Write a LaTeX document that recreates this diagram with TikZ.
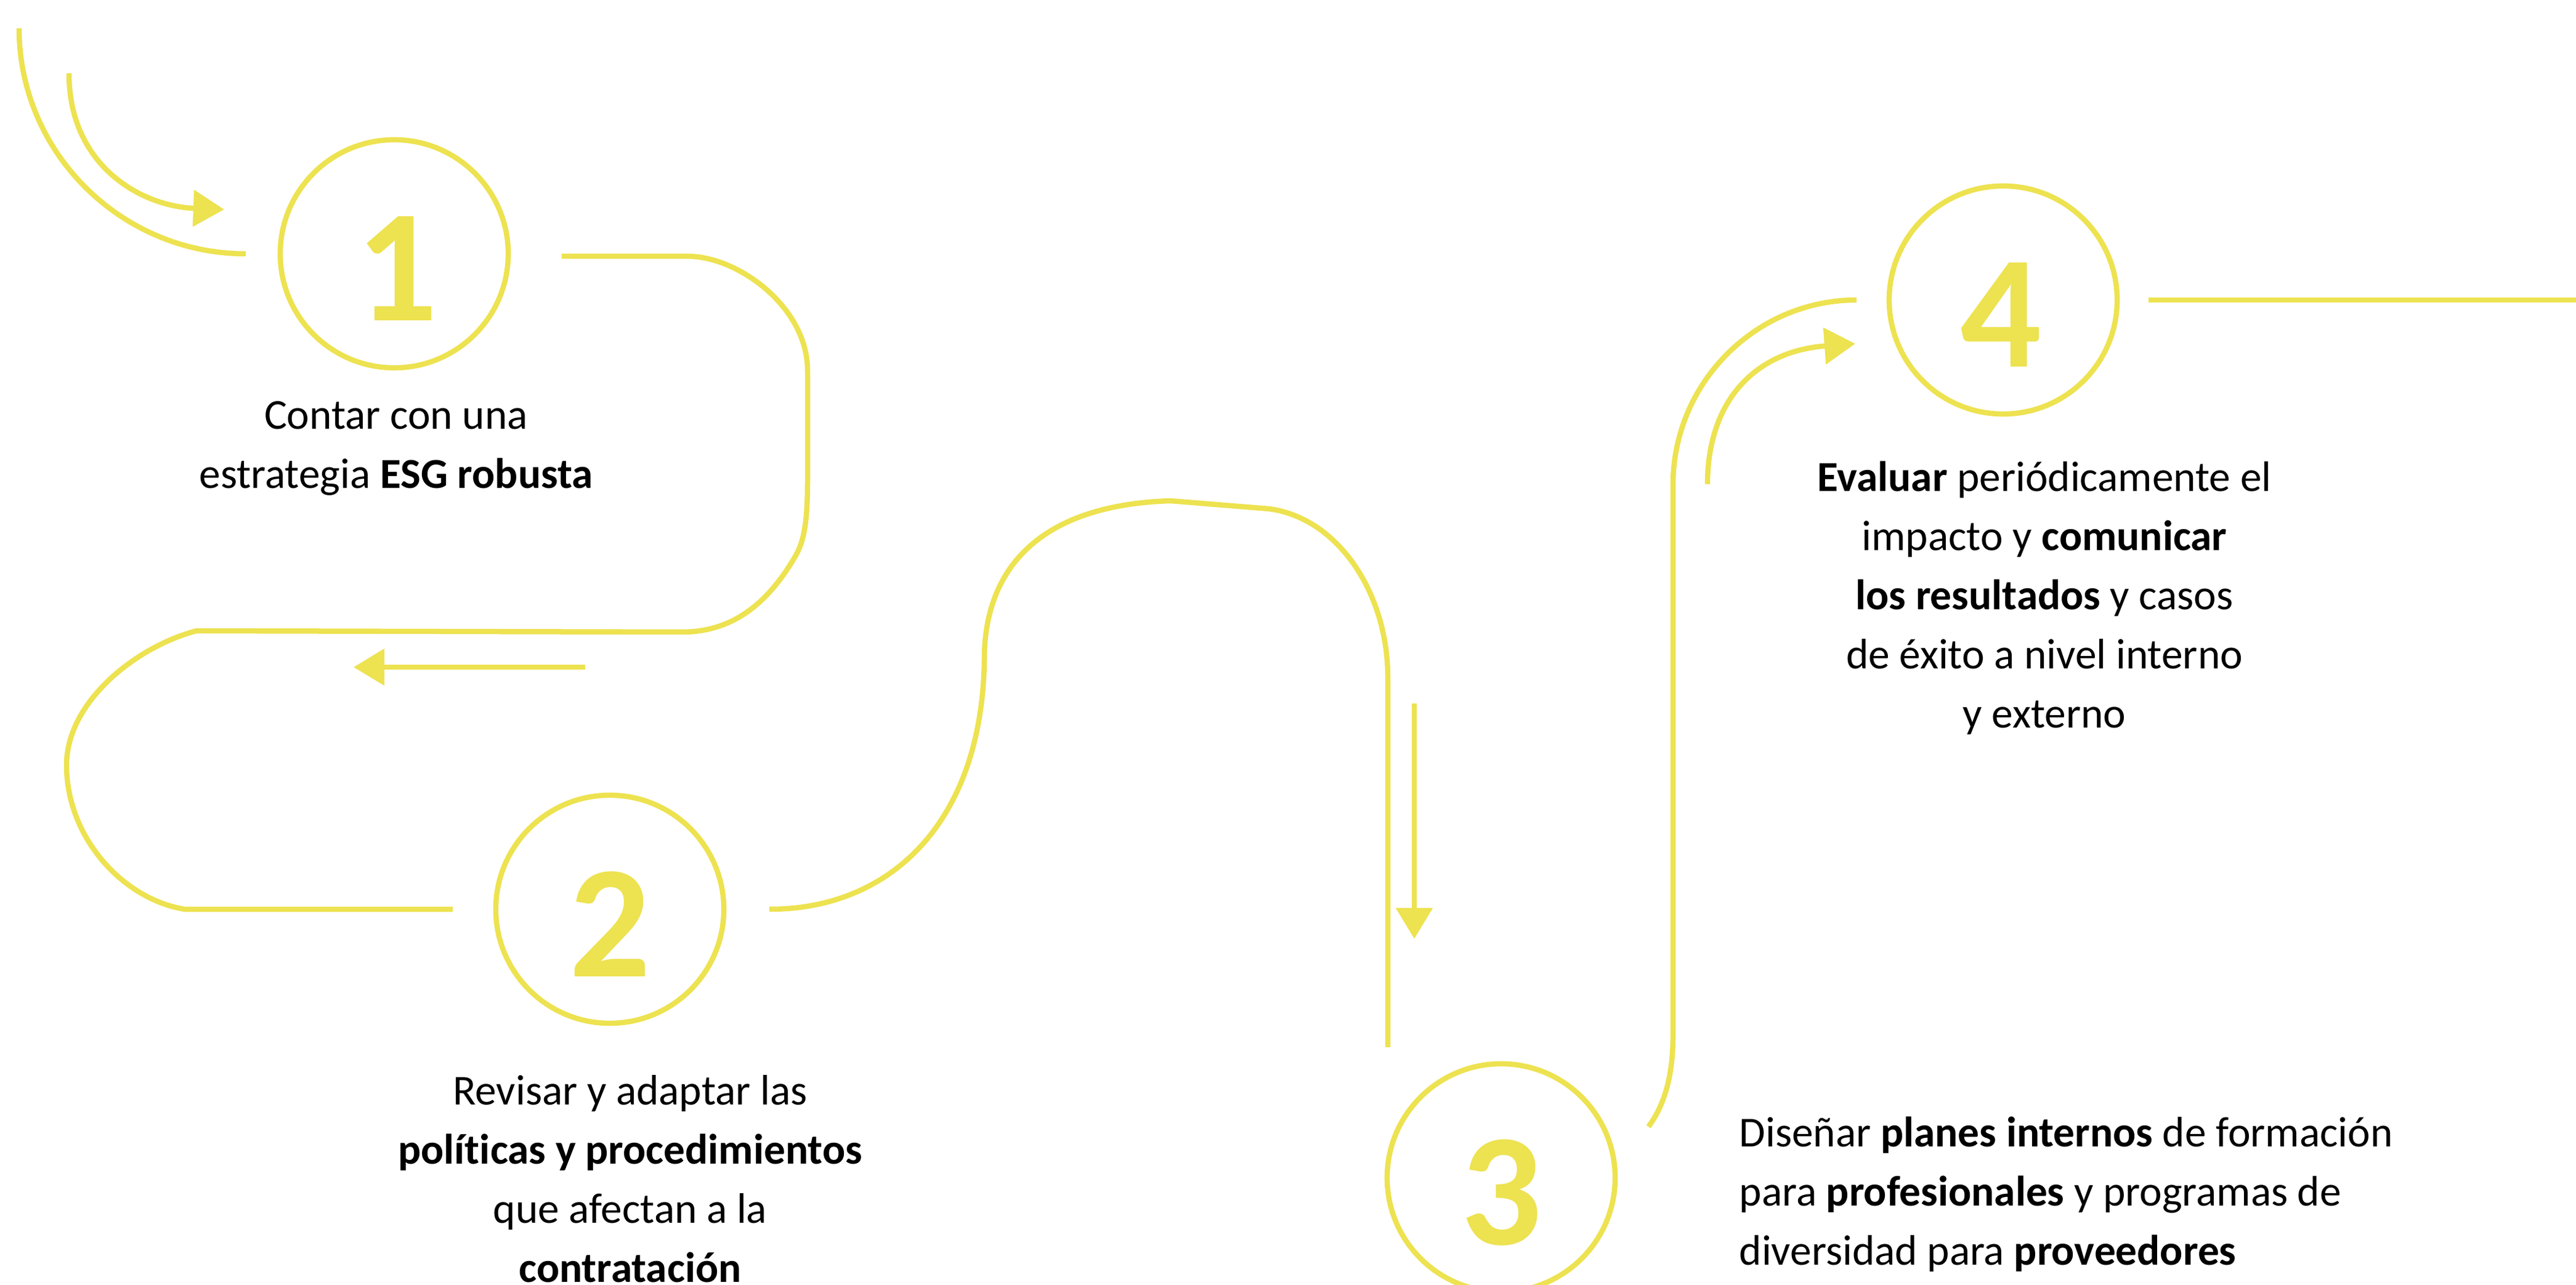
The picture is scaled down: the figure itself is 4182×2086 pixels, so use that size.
\documentclass[tikz,border=0pt]{standalone}
\usepackage{fontspec}
\setmainfont{Carlito}[Ligatures=NoCommon]
\usetikzlibrary{arrows.meta,calc}
\definecolor{esgyellow}{RGB}{237,226,80}
\tikzset{
	road/.style={draw=esgyellow, line width=0.085cm},
	pointer/.style={road, -{Triangle[length=0.5cm, width=0.58cm]}},
	ring/.style={circle, draw=esgyellow, line width=0.085cm, minimum size=3.7cm, inner sep=0pt, outer sep=0pt},
	digit/.style={text=esgyellow, font=\fontsize{74}{74}\selectfont\bfseries, inner sep=0pt},
	caption/.style={font=\fontsize{19.7}{27.3}\selectfont, align=center, anchor=base, inner sep=0pt}
}
\begin{document}
\begin{tikzpicture}[x=0.01cm, y=-0.01cm]
	\useasboundingbox (0, 0) rectangle (4182, 2086);
	\clip (0, 0) rectangle (4182, 2086);
	% steps
	\node[ring] (c1) at (640, 412) {};
	\node[ring] (c2) at (990, 1476) {};
	\node[ring] (c3) at (2437, 1912) {};
	\node[ring] (c4) at (3252, 487) {};
	\node[digit] at ($(c1)+(4, 24)$) {1};
	\node[digit] at ($(c2)+(0, 24)$) {2};
	\node[digit] at ($(c3)+(0, 24)$) {3};
	\node[digit] at ($(c4)+(-4, 24)$) {4};
	% road
	\draw[road] (31, 46) .. controls (31, 248) and (197, 412) .. ($(c1.west)+(-56, 0)$);
	\draw[pointer] (112, 119) .. controls (112, 270) and (230, 335) .. ($(c1.west)+(-91, -72)$);
	\draw[road] ($(c1.east)+(87, 4)$) -- (1116, 416) .. controls (1200, 416) and (1311, 500) .. (1311, 601) -- (1311, 780) .. controls (1311, 850) and (1305, 880) .. (1290, 905) .. controls (1240, 990) and (1180, 1026) .. (1107, 1026) -- (319, 1024) .. controls (220, 1050) and (108, 1140) .. (108, 1242) .. controls (108, 1360) and (200, 1460) .. (300, 1476) -- ($(c2.west)+(-70, 0)$);
	\draw[pointer] (950, 1083) -- (574, 1083);
	\draw[road] ($(c2.east)+(74, 0)$) .. controls (1450, 1476) and (1595, 1330) .. (1598, 1070) .. controls (1598, 930) and (1680, 820) .. (1900, 813) -- (2060, 826) .. controls (2170, 840) and (2253, 960) .. (2253, 1100) -- ($(c3.north)+(-184, -27)$);
	\draw[pointer] (2296, 1142) -- (2296, 1524);
	\draw[road] ($(c3.east)+(54, -83)$) .. controls (2705, 1790) and (2716, 1740) .. (2716, 1681) -- (2716, 787) .. controls (2716, 622) and (2850, 487) .. ($(c4.west)+(-53, 0)$);
	\draw[pointer] (2772, 786) .. controls (2772, 650) and (2850, 570) .. ($(c4.west)+(-55, 71)$);
	\draw[road] ($(c4.east)+(51, 0)$) -- (4182, 487);
	% texts (anchored on the last line)
	\node[caption] (t1) at (643, 793) {Contar con una\\estrategia \textbf{ESG robusta}};
	\node[caption] (t2) at (1023, 2081) {Revisar y adaptar las\\\textbf{políticas y procedimientos}\\que afectan a la\\\textbf{contratación}};
	\node[caption, align=left, anchor=base west] (t3) at (2823, 2053) {Diseñar \textbf{planes internos} de formación\\para \textbf{profesionales} y programas de\\diversidad para \textbf{proveedores}};
	\node[caption] (t4) at (3319, 1182) {\textbf{Evaluar} periódicamente el\\impacto y \textbf{comunicar}\\\textbf{los resultados} y casos\\de éxito a nivel interno\\y externo};
\end{tikzpicture}
\end{document}
